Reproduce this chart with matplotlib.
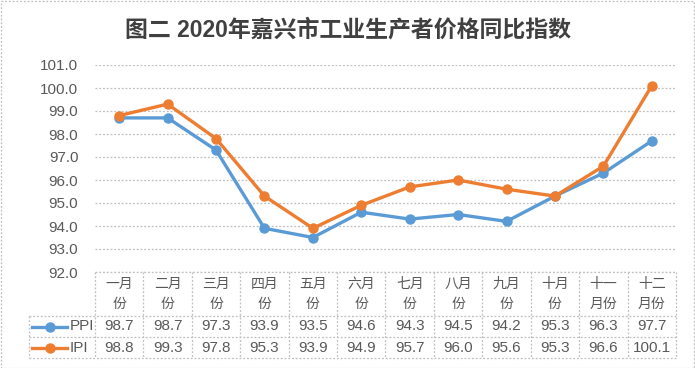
import matplotlib
matplotlib.use("Agg")
import matplotlib.pyplot as plt
from matplotlib.lines import Line2D
from matplotlib.patches import Rectangle

plt.rcParams["font.family"] = ["Liberation Sans", "Noto Sans CJK SC", "DejaVu Sans"]

title = "图二 2020年嘉兴市工业生产者价格同比指数"
months = ["一月\n份", "二月\n份", "三月\n份", "四月\n份", "五月\n份", "六月\n份",
          "七月\n份", "八月\n份", "九月\n份", "十月\n份", "十一\n月份", "十二\n月份"]
ppi = [98.7, 98.7, 97.3, 93.9, 93.5, 94.6, 94.3, 94.5, 94.2, 95.3, 96.3, 97.7]
ipi = [98.8, 99.3, 97.8, 95.3, 93.9, 94.9, 95.7, 96.0, 95.6, 95.3, 96.6, 100.1]
series = [("PPI", ppi, "#5B9BD5"), ("IPI", ipi, "#ED7D31")]
yticks = [92.0, 93.0, 94.0, 95.0, 96.0, 97.0, 98.0, 99.0, 100.0, 101.0]

W, H = 695, 368
fig = plt.figure(figsize=(W / 100, H / 100), dpi=100)
TXT = "#595959"
GRID = "#BFBFBF"

# pixel layout
PL, PR, PT, PB = 95, 676, 65, 272
ax = fig.add_axes([PL / W, 1 - PB / H, (PR - PL) / W, (PB - PT) / H])
n = len(months)
ax.set_xlim(-0.5, n - 0.5)
ax.set_ylim(yticks[0], yticks[-1])
for s in ax.spines.values():
    s.set_visible(False)
ax.set_xticks([])
ax.set_yticks(yticks)
ax.set_yticklabels([f"{v:.1f}" for v in yticks], color=TXT, fontsize=11)
ax.tick_params(axis="y", length=0, pad=12)
for v in yticks:
    ax.axhline(v, color=GRID, lw=0.9, ls=(0, (1.5, 1.5)), zorder=1)

xs = list(range(n))
for name, vals, c in series:
    ax.plot(xs, vals, color=c, lw=2.4, marker="o", ms=6.5, zorder=3)

fig.text(0.501, 1 - 30 / H, title, ha="center", va="center", fontsize=16.5,
         fontweight="bold", color="#404040")

# data table below the plot, in figure pixel coords
def fx(px):
    return px / W

def fy(py):
    return 1 - py / H

col_w = (PR - PL) / n
row_top, row_head, row_1, row_2 = 272, 316, 337, 358
LEG_L = 29
ls_tab = (0, (1.5, 1.5))
lines = []
lines.append(([fx(PL), fx(PR)], [fy(row_top)] * 2))
for yy in (row_head, row_1, row_2):
    lines.append(([fx(LEG_L), fx(PR)], [fy(yy)] * 2))
for i in range(n + 1):
    x = PL + i * col_w
    lines.append(([fx(x)] * 2, [fy(row_top), fy(row_2)]))
lines.append(([fx(LEG_L)] * 2, [fy(row_head), fy(row_2)]))
for xx, yy in lines:
    fig.add_artist(Line2D(xx, yy, color=GRID, lw=0.9, ls=ls_tab))

for i, m in enumerate(months):
    cx = PL + (i + 0.5) * col_w
    fig.text(fx(cx), fy((row_top + row_head) / 2), m, ha="center", va="center",
             fontsize=10, color=TXT, linespacing=1.5)

for r, (name, vals, c) in enumerate(series):
    y0 = [row_head, row_1][r]
    y1 = [row_1, row_2][r]
    cy = (y0 + y1) / 2
    fig.add_artist(Line2D([fx(32), fx(67)], [fy(cy)] * 2, color=c, lw=2.4))
    fig.add_artist(Line2D([fx(49.5)], [fy(cy)], color=c, marker="o", ms=6.5))
    fig.text(fx(70), fy(cy), name, ha="left", va="center", fontsize=11, color=TXT)
    for i, v in enumerate(vals):
        cx = PL + (i + 0.5) * col_w
        fig.text(fx(cx), fy(cy), f"{v:.1f}", ha="center", va="center",
                 fontsize=11, color=TXT)

# outer frame
fig.add_artist(Rectangle((0.5 / W, 0.5 / H), 1 - 1.5 / W, 1 - 1.5 / H,
                         transform=fig.transFigure, fill=False,
                         ec="#BFBFBF", lw=0.9, ls=(0, (1.5, 1.5))))

fig.savefig("out.png", dpi=100)
